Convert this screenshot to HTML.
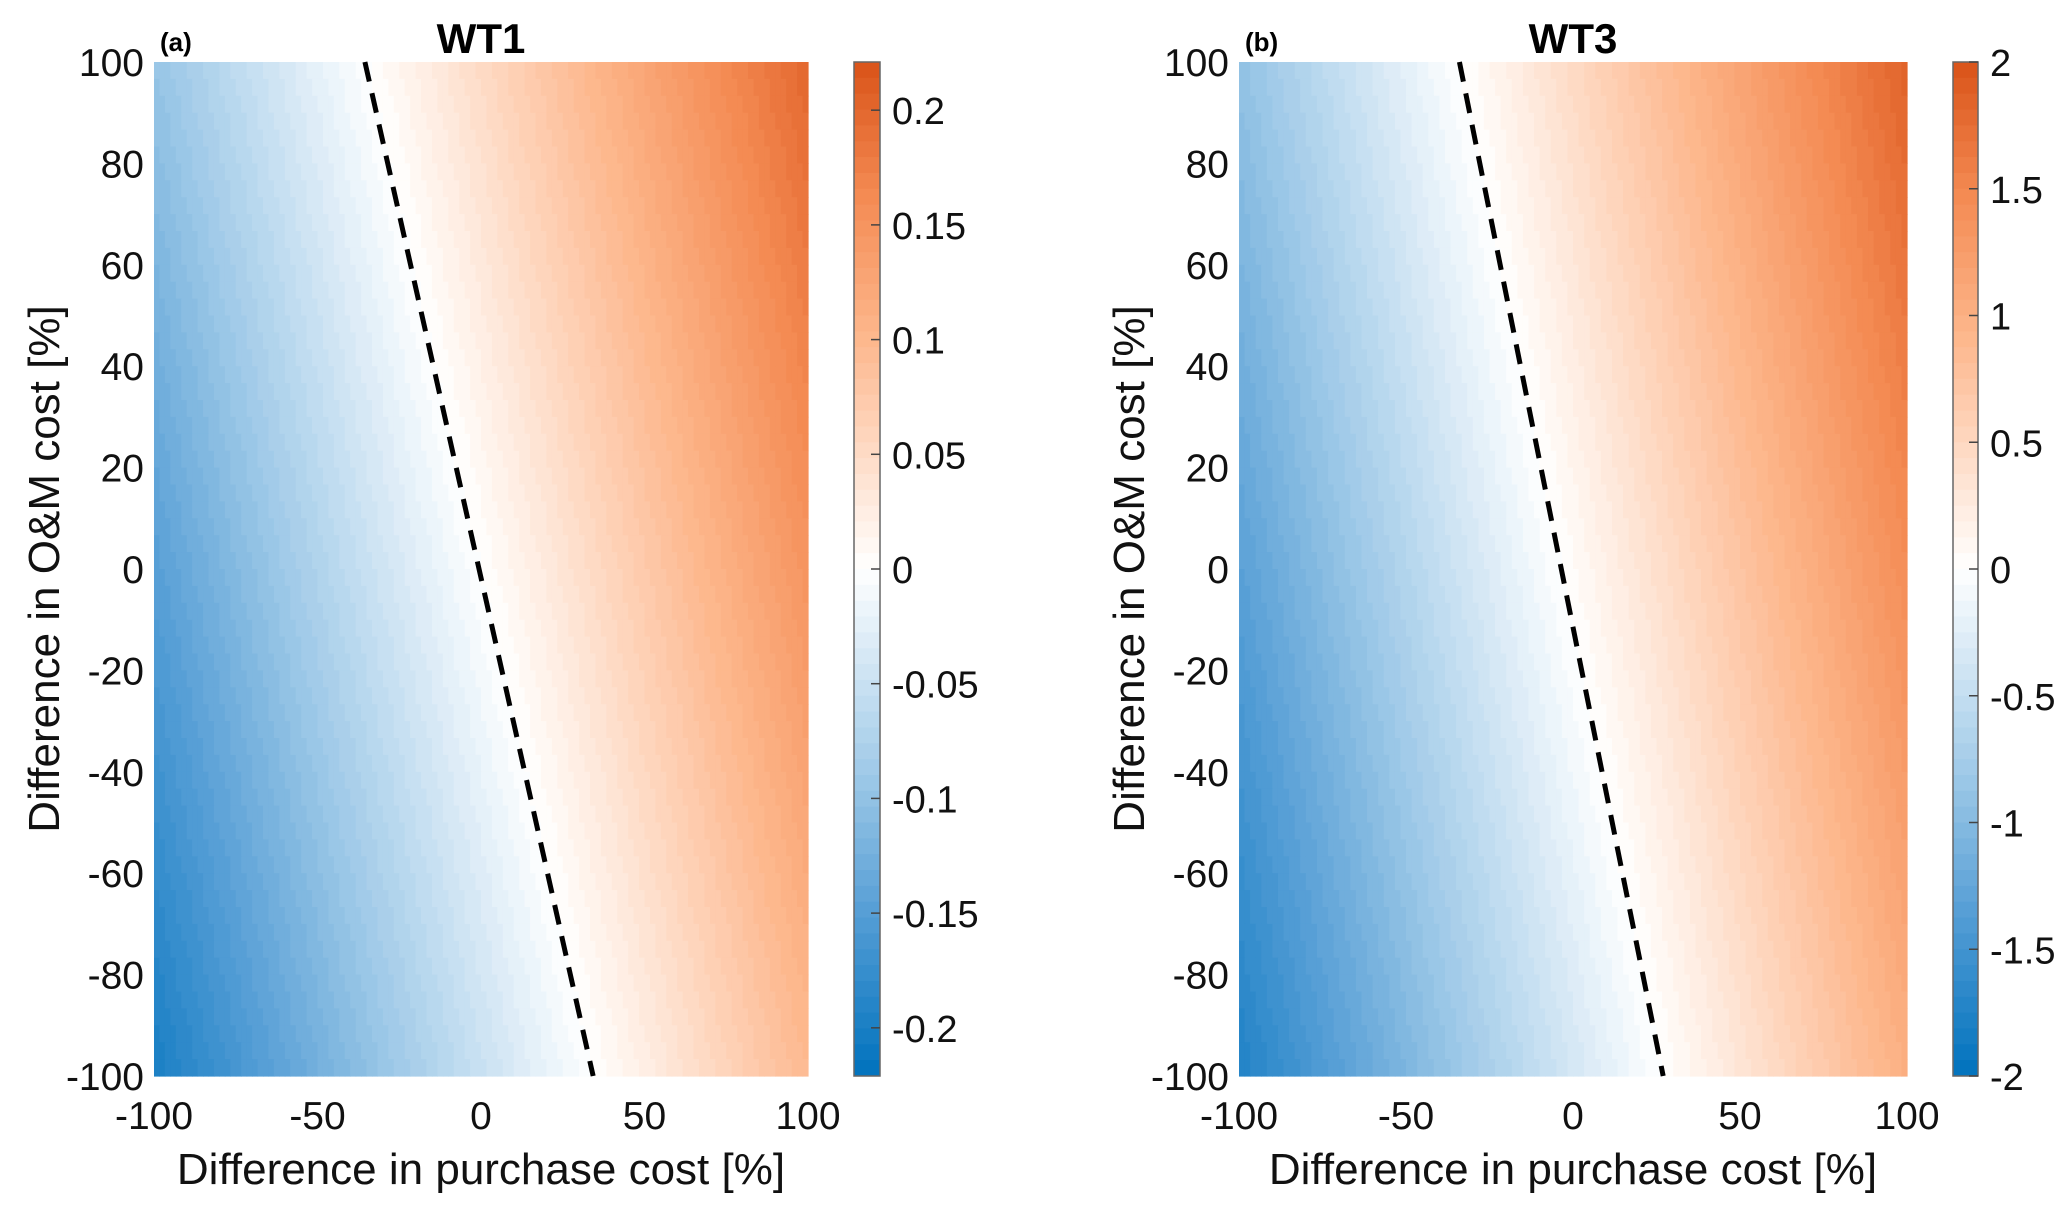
<!DOCTYPE html>
<html><head><meta charset="utf-8">
<style>
body{margin:0;background:#fff;}
svg{display:block;font-family:"Liberation Sans",Arial,sans-serif;}
</style></head>
<body>
<svg id="fig" width="2067" height="1210" viewBox="0 0 2067 1210"></svg>
<script>
// ---- data ----
const xTicks = [-100, -50, 0, 50, 100];
const yTicks = [100, 80, 60, 40, 20, 0, -20, -40, -60, -80, -100];
const gridX = [-100, -50, 0, 50, 100];
const gridY = [100, 50, 0, -50, -100];
const zWT1 = [
  [-0.097, -0.023, 0.051, 0.126, 0.200],
  [-0.123, -0.049, 0.026, 0.100, 0.174],
  [-0.149, -0.074, 0.000, 0.074, 0.149],
  [-0.174, -0.100, -0.026, 0.049, 0.123],
  [-0.200, -0.126, -0.051, 0.023, 0.097]
];
const zWT3 = [
  [-0.91, -0.22, 0.47, 1.16, 1.85],
  [-1.12, -0.43, 0.26, 0.95, 1.64],
  [-1.33, -0.64, 0.05, 0.74, 1.43],
  [-1.54, -0.85, -0.16, 0.53, 1.22],
  [-1.75, -1.06, -0.37, 0.32, 1.01]
];
const dashWT1X = [-35.5, 34.3];
const dashWT1Y = [100, -100];
const dashWT3X = [-34, 27];
const dashWT3Y = [100, -100];
const cbTicksWT1 = [0.2, 0.15, 0.1, 0.05, 0, -0.05, -0.1, -0.15, -0.2];
const cbLabelsWT1 = ["0.2","0.15","0.1","0.05","0","-0.05","-0.1","-0.15","-0.2"];
const cbTicksWT3 = [2, 1.5, 1, 0.5, 0, -0.5, -1, -1.5, -2];
const cbLabelsWT3 = ["2","1.5","1","0.5","0","-0.5","-1","-1.5","-2"];

const NS = "http://www.w3.org/2000/svg";
const svg = document.getElementById('fig');
function mk(tag, attrs, parent){
  const e = document.createElementNS(NS, tag);
  for (const k in attrs) e.setAttribute(k, attrs[k]);
  (parent || svg).appendChild(e);
  return e;
}
const stops = [
  [-1.0, [0,114,189]],
  [-0.7, [80,155,212]],
  [-0.4, [160,202,232]],
  [0.0, [255,255,255]],
  [0.45, [253,184,142]],
  [0.75, [243,136,80]],
  [1.0, [217,83,25]]
];
function cmap(t){
  t = Math.max(-1, Math.min(1, t));
  for (let i=0;i<stops.length-1;i++){
    const a=stops[i], b=stops[i+1];
    if (t>=a[0] && t<=b[0]){
      const f=(t-a[0])/(b[0]-a[0]);
      const c=a[1].map((v,j)=>Math.round(v+(b[1][j]-v)*f));
      return `rgb(${c[0]},${c[1]},${c[2]})`;
    }
  }
  return 'rgb(217,83,25)';
}
const NLEV = 64;
function quant(t){
  const k = Math.floor((t+1)/2*NLEV);
  const kk = Math.max(0, Math.min(NLEV-1, k));
  return ((kk+0.5)/NLEV)*2-1;
}
function bilerp(z, gx, gy){
  const fx = (gx - gridX[0])/(gridX[gridX.length-1]-gridX[0])*(gridX.length-1);
  const fy = (gridY[0] - gy)/(gridY[0]-gridY[gridY.length-1])*(gridY.length-1);
  const i = Math.min(gridX.length-2, Math.floor(fx)), j = Math.min(gridY.length-2, Math.floor(fy));
  const u = fx-i, v = fy-j;
  return z[j][i]*(1-u)*(1-v)+z[j][i+1]*u*(1-v)+z[j+1][i]*(1-u)*v+z[j+1][i+1]*u*v;
}

function panel(cfg){
  const {L,R,T,B,cbL,cbR,z,zmax,dx,dy,cbTicks,cbLabels,title,tag,tagX,id} = cfg;
  const g = mk('g', {});
  const sx = v => L + (v+100)/200*(R-L);
  const sy = v => T + (100-v)/200*(B-T);
  const hm = mk('g', {}, g);
  const NX = 120, NY = 60;
  const cw=(R-L)/NX, ch=(B-T)/NY;
  for (let j=0;j<NY;j++){
    for (let i=0;i<NX;i++){
      const xv = -100 + (i+0.5)/NX*200, yv = 100 - (j+0.5)/NY*200;
      const val = bilerp(z, xv, yv);
      const r = mk('rect', {x:(L+i*cw).toFixed(2), y:(T+j*ch).toFixed(2), width:(cw+0.6).toFixed(2), height:(ch+0.6).toFixed(2), fill:cmap(quant(val/zmax))}, hm);
      
      
    }
  }
  const dl = mk('line', {x1:sx(dx[0]), y1:sy(dy[0]), x2:sx(dx[1]), y2:sy(dy[1]), stroke:'#000','stroke-width':5,'stroke-dasharray':'20 12'}, g);
  
  
  xTicks.forEach(v=>{
    const t = mk('text', {x:sx(v), y:1129, 'font-size':39, 'text-anchor':'middle', fill:'#111'}, g);
    t.textContent = v;
    
    
  });
  yTicks.forEach(v=>{
    const t = mk('text', {x:L-10, y:sy(v)+14, 'font-size':39, 'text-anchor':'end', fill:'#111'}, g);
    t.textContent = v;
    
    
  });
  const xl = mk('text', {x:(L+R)/2, y:1184, 'font-size':44, 'text-anchor':'middle', fill:'#111',}, g);
  xl.textContent = 'Difference in purchase cost [%]';
  const ycx = L-110;
  const yl = mk('text', {x:ycx, y:(T+B)/2, 'font-size':44, 'text-anchor':'middle', fill:'#111', transform:`rotate(-90 ${ycx} ${(T+B)/2}) translate(0 15)`,}, g);
  yl.textContent = 'Difference in O&M cost [%]';
  const tt = mk('text', {x:(L+R)/2, y:53, 'font-size':42, 'font-weight':'bold','text-anchor':'middle', fill:'#000',}, g);
  tt.textContent = title;
  const tg = mk('text', {x:tagX, y:51, 'font-size':26, 'font-weight':'bold', fill:'#000',}, g);
  tg.textContent = tag;
  const cb = mk('g', {}, g);
  const csy = v => T + (zmax - v)/(2*zmax)*(B-T);
  const lh = (B-T)/NLEV;
  for (let k=0;k<NLEV;k++){
    const tval = 1 - (k+0.5)/NLEV*2;
    const r = mk('rect', {x:cbL, y:(T+k*lh).toFixed(2), width:cbR-cbL, height:(lh+0.5).toFixed(2), fill:cmap(tval)}, cb);
    
    
  }
  mk('rect', {x:cbL, y:T, width:cbR-cbL, height:B-T, fill:'none', stroke:'#666','stroke-width':1.5}, cb);
  cbTicks.forEach((v,i)=>{
    mk('line', {x1:cbR-9, x2:cbR, y1:csy(v), y2:csy(v), stroke:'#444','stroke-width':1.5}, cb);
    const t = mk('text', {x:cbR+12, y:csy(v)+14, 'font-size':38, fill:'#111'}, cb);
    t.textContent = cbLabels[i];
    
    
  });
}
panel({L:154,R:808,T:62,B:1076,cbL:854,cbR:880,z:zWT1,zmax:0.221,dx:dashWT1X,dy:dashWT1Y,cbTicks:cbTicksWT1,cbLabels:cbLabelsWT1,title:'WT1',tag:'(a)',tagX:160,id:'wt1'});
panel({L:1239,R:1907,T:62,B:1076,cbL:1953,cbR:1978,z:zWT3,zmax:2.0,dx:dashWT3X,dy:dashWT3Y,cbTicks:cbTicksWT3,cbLabels:cbLabelsWT3,title:'WT3',tag:'(b)',tagX:1245,id:'wt3'});
</script>
</body></html>
